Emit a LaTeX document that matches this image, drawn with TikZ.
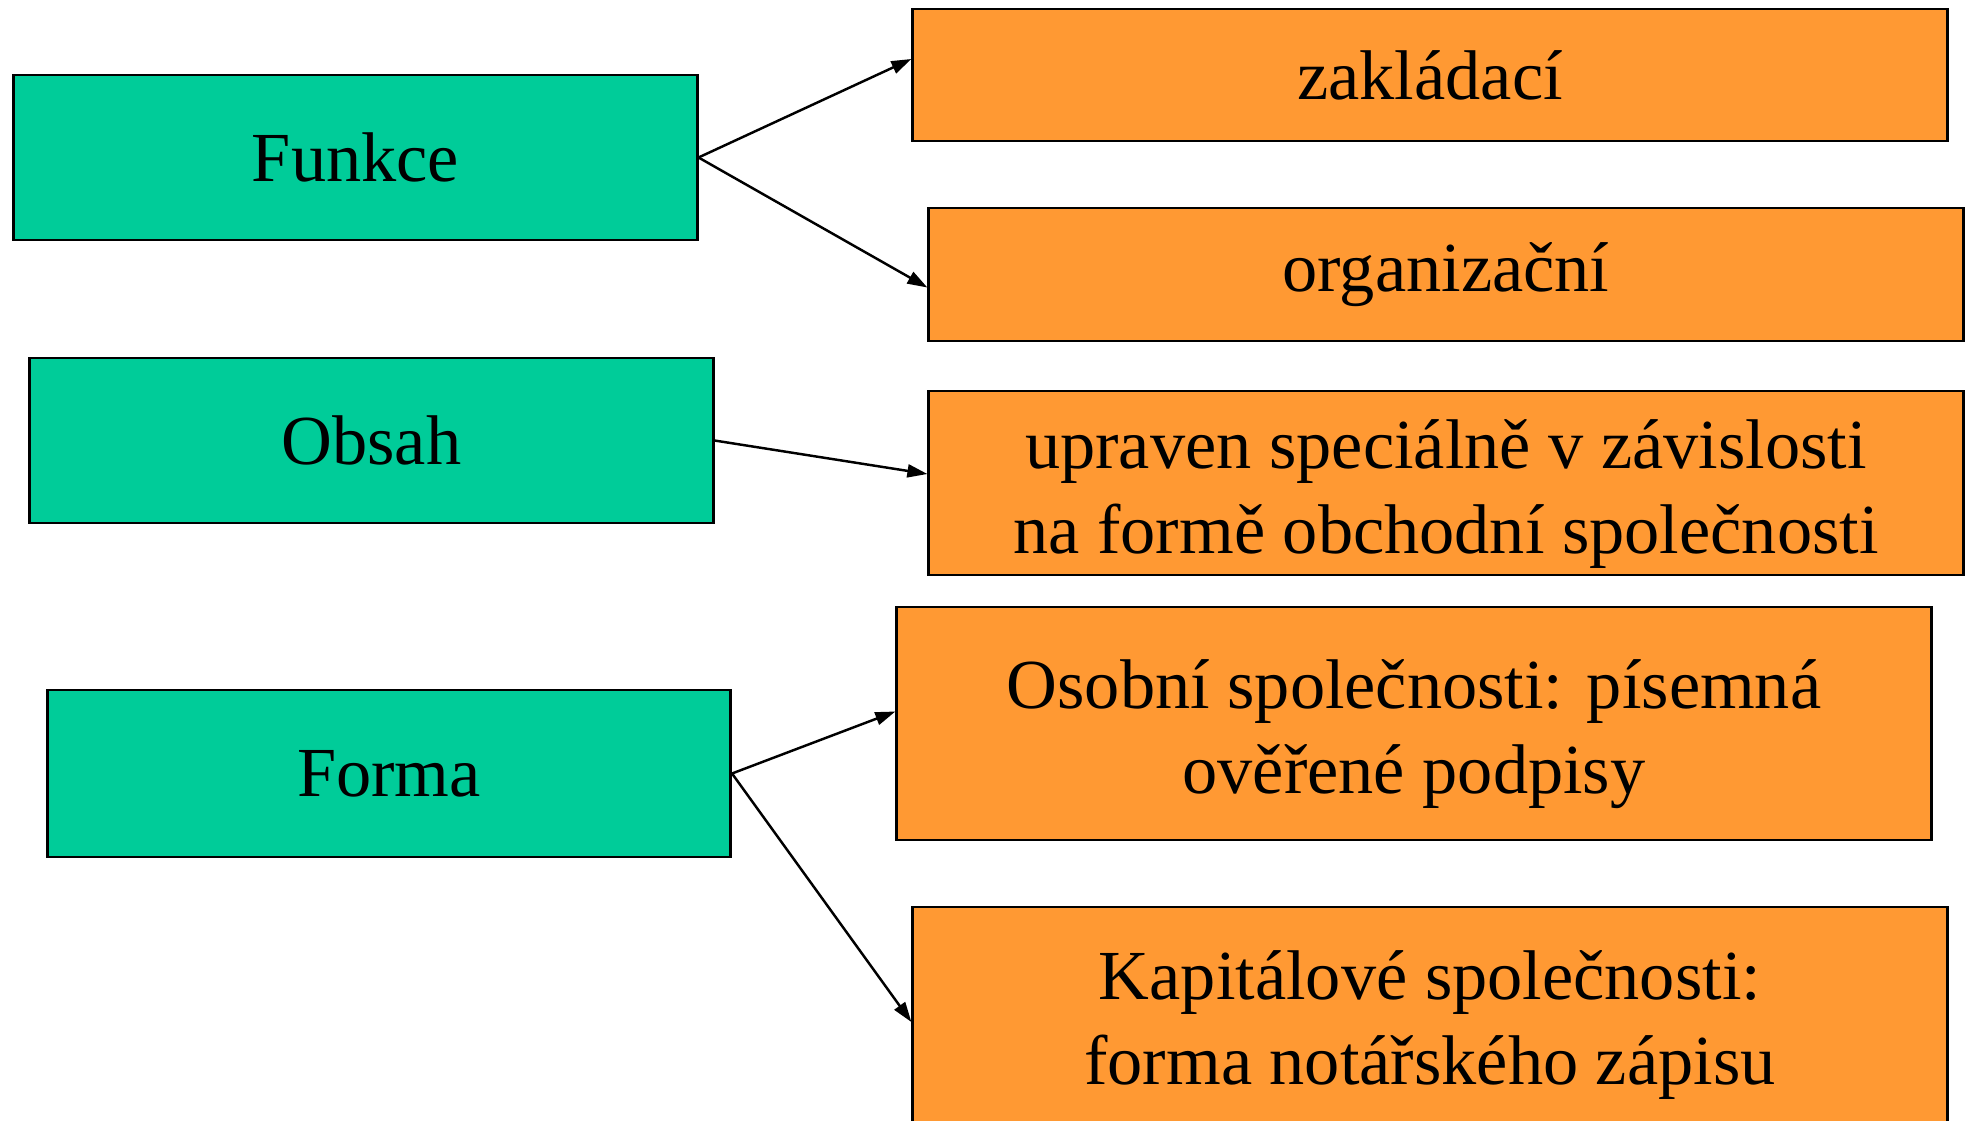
\documentclass[tikz,border=0pt]{standalone}
\usepackage{fontspec}
\setmainfont{Liberation Serif}
\usepackage{tikz}
\usetikzlibrary{arrows.meta}

\definecolor{boxgreen}{RGB}{0,204,153}
\definecolor{boxorange}{RGB}{255,153,51}

\begin{document}
\begin{tikzpicture}[x = 0.01cm, y = -0.01cm,
	greenbox/.style = {rectangle, fill = boxgreen, draw = black, line width = 0.75pt, minimum width = 6.83cm, minimum height = 1.65cm, font = \fontsize{20}{24.2}\selectfont},
	orangebox/.style = {rectangle, fill = boxorange, draw = black, line width = 0.75pt, minimum width = 10.34cm, inner ysep = 0pt, align = center, font = \fontsize{20}{24.2}\selectfont},
	arr/.style = {-{Triangle[length = 0.2cm, width = 0.13cm]}, line width = 0.7pt}]

\useasboundingbox (0, 0) rectangle (1972, 1121);
\clip (0, 0) rectangle (1972, 1121);

%% Draw left boxes

\node[greenbox] (funkce) at (355.5, 157.5) {Funkce};

\node[greenbox] (obsah) at (371.5, 440.5) {Obsah};

\node[greenbox, minimum height = 1.67cm] (forma) at (389, 773.5) {Forma};

%% Draw right boxes

\node[orangebox, minimum height = 1.32cm] (zakladaci) at (1430, 75) {zakládací};

\node[orangebox, minimum height = 1.33cm] (organizacni) at (1446, 274.5) {organizační};

\node[orangebox, minimum height = 1.84cm] (upraven) at (1446, 483) {\rule{0pt}{20pt}upraven speciálně v závislosti\\na formě obchodní společnosti};

\node[orangebox, minimum height = 2.33cm] (osobni) at (1414, 723.5) {\rule{0pt}{20pt}Osobní společnosti: písemná\\ověřené podpisy};

\node[orangebox, minimum height = 2.36cm] (kapitalove) at (1430, 1025) {Kapitálové společnosti:\\forma notářského zápisu};

%% Draw arrows

\draw[arr] (funkce.east) -- ([yshift = 0.16cm]zakladaci.west);
\draw[arr] (funkce.east) -- ([yshift = -0.13cm]organizacni.west);

\draw[arr] (obsah.east) -- ([yshift = 0.09cm]upraven.west);

\draw[arr] (forma.east) -- ([yshift = 0.12cm]osobni.west);
\draw[arr] (forma.east) -- ([yshift = 0.03cm]kapitalove.west);

\end{tikzpicture}
\end{document}
